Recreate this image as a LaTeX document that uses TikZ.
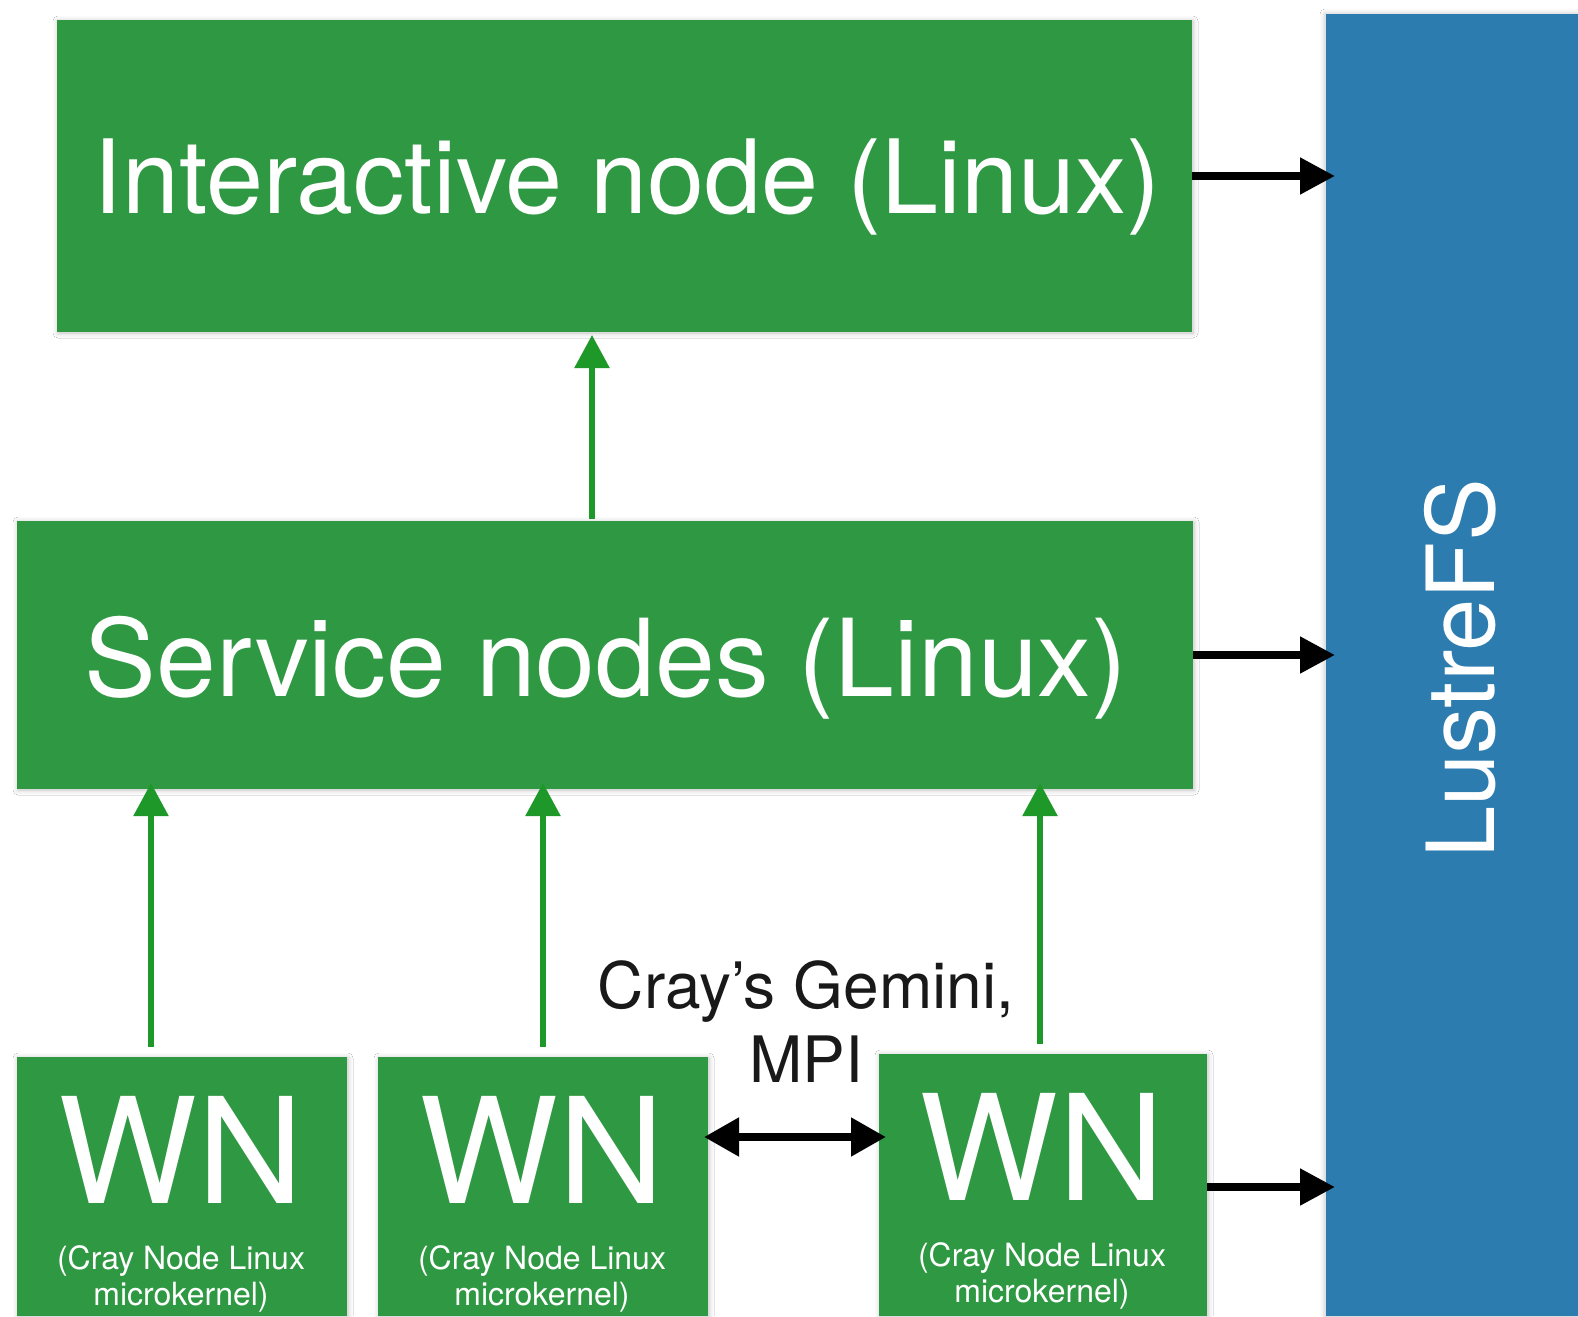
\documentclass[tikz,border=0pt]{standalone}
\usepackage{fontspec}
\setmainfont{TeX Gyre Heros}
\usetikzlibrary{arrows.meta,shadows.blur}
\definecolor{boxgreen}{RGB}{47,152,67}
\definecolor{lblue}{RGB}{45,124,176}
\definecolor{agreen}{RGB}{30,152,40}
\definecolor{txtblack}{RGB}{25,25,25}
\tikzset{
  gbox/.style={rectangle, fill=boxgreen, inner sep=0pt, outer sep=0pt,
    blur shadow={shadow xshift=1pt, shadow yshift=-1pt, shadow blur radius=5pt, shadow opacity=25}},
  bbox/.style={rectangle, fill=lblue, inner sep=0pt, outer sep=0pt,
    blur shadow={shadow xshift=-1pt, shadow yshift=0pt, shadow blur radius=5pt, shadow opacity=25}},
  wtext/.style={text=white, inner sep=0pt, anchor=base},
  btext/.style={text=txtblack, inner sep=0pt, anchor=base},
  barrow/.style={draw=black, line width=8pt, -{Triangle[length=35pt,width=35pt]}},
  garrow/.style={draw=agreen, line width=5.5pt, -{Triangle[length=33pt,width=34pt]}},
  darrow/.style={draw=black, line width=8pt, {Triangle[length=35pt,width=37pt]}-{Triangle[length=35pt,width=37pt]}},
}
\begin{document}
\begin{tikzpicture}[x=1pt,y=-1pt]
\useasboundingbox (0,0) rectangle (1578,1316);
\fill[white] (0,0) rectangle (1578,1316);

% boxes
\node[bbox, minimum width=252pt, minimum height=1302pt] (lus) at (1452,665) {};
\node[gbox, minimum width=1135pt, minimum height=312pt] (int) at (624.5,176) {};
\node[gbox, minimum width=1176pt, minimum height=268pt] (svc) at (605,655) {};
\node[gbox, minimum width=330pt, minimum height=259pt] (wn1) at (182,1186.5) {};
\node[gbox, minimum width=330pt, minimum height=259pt] (wn2) at (543,1186.5) {};
\node[gbox, minimum width=328pt, minimum height=262pt] (wn3) at (1043,1185) {};

% texts
\node[wtext, font=\fontsize{102.5}{110}\selectfont] (intt) at (627,213) {Interactive node (Linux)};
\node[wtext, font=\fontsize{107.5}{115}\selectfont] (svct) at (606,696) {Service nodes (Linux)};
\node[wtext, rotate=90, font=\fontsize{94}{100}\selectfont] (lust) at (1494,669) {LustreFS};

\node[wtext, font=\fontsize{147}{150}\selectfont] (wn1t) at (181,1203) {WN};
\node[wtext, font=\fontsize{32}{36}\selectfont] (wn1a) at (181,1269) {(Cray Node Linux};
\node[wtext, font=\fontsize{32}{36}\selectfont] (wn1b) at (181,1305) {microkernel)};

\node[wtext, font=\fontsize{147}{150}\selectfont] (wn2t) at (542,1203) {WN};
\node[wtext, font=\fontsize{32}{36}\selectfont] (wn2a) at (542,1269) {(Cray Node Linux};
\node[wtext, font=\fontsize{32}{36}\selectfont] (wn2b) at (542,1305) {microkernel)};

\node[wtext, font=\fontsize{147}{150}\selectfont] (wn3t) at (1042,1200) {WN};
\node[wtext, font=\fontsize{32}{36}\selectfont] (wn3a) at (1042,1266) {(Cray Node Linux};
\node[wtext, font=\fontsize{32}{36}\selectfont] (wn3b) at (1042,1302) {microkernel)};

\node[btext, font=\fontsize{64}{70}\selectfont] (gem1) at (806,1008) {Cray’s Gemini,};
\node[btext, font=\fontsize{64}{70}\selectfont] (gem2) at (806,1082) {MPI};

% helper coordinates
\coordinate (cx0) at (592,0);
\coordinate (cx1) at (151,0);
\coordinate (cx2) at (543,0);
\coordinate (cx3) at (1040,0);
\coordinate (my) at (0,1137);
\coordinate (wy) at (0,1187);

% black arrows to LustreFS
\draw[barrow, shorten >=-9pt] (int.east) -- (int.east -| lus.west);
\draw[barrow, shorten >=-9pt] (svc.east) -- (svc.east -| lus.west);
\draw[barrow, shorten >=-9pt] (wn3.east |- wy) -- (lus.west |- wy);

% green arrows
\draw[garrow, shorten <=2pt, shorten >=3pt] (svc.north -| cx0) -- (int.south -| cx0);
\draw[garrow, shorten <=10pt, shorten >=-6pt] (wn1.north -| cx1) -- (svc.south -| cx1);
\draw[garrow, shorten <=10pt, shorten >=-6pt] (wn2.north -| cx2) -- (svc.south -| cx2);
\draw[garrow, shorten <=10pt, shorten >=-6pt] (wn3.north -| cx3) -- (svc.south -| cx3);

% double arrow
\draw[darrow, shorten <=-4pt, shorten >=-7pt] (wn2.east |- my) -- (wn3.west |- my);
\end{tikzpicture}
\end{document}
